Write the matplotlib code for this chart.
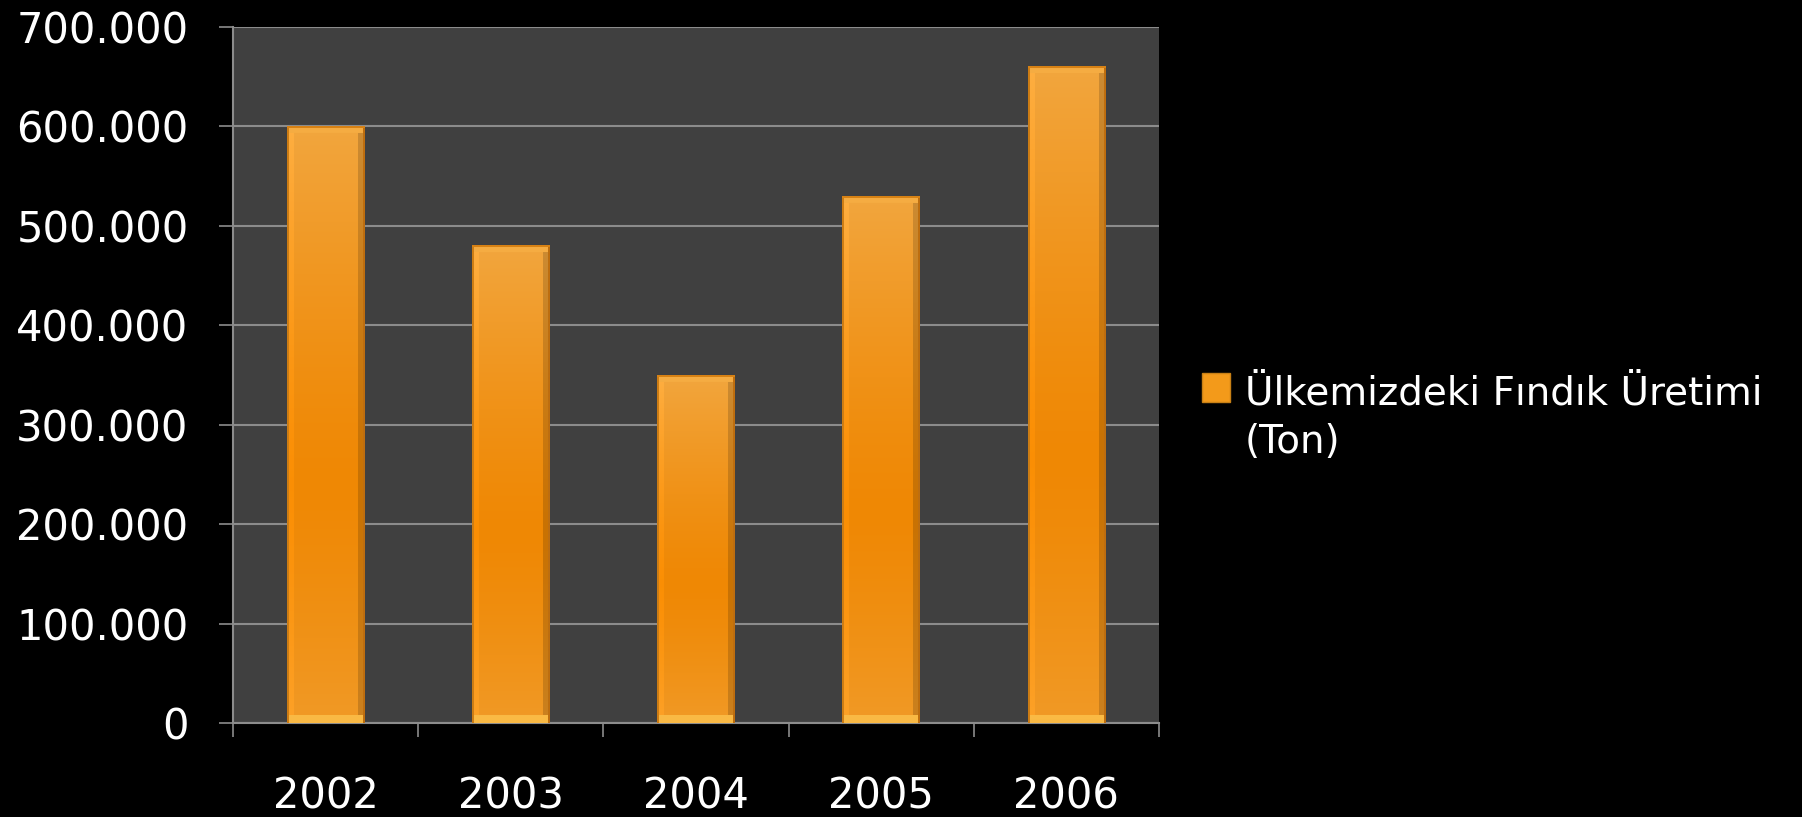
import matplotlib.pyplot as plt
import numpy as np
from matplotlib.ticker import FuncFormatter, FixedLocator
from matplotlib.patches import Rectangle

years = ['2002', '2003', '2004', '2005', '2006']
production = [600000, 480000, 350000, 530000, 660000]
series_line1 = 'Ülkemizdeki Fındık Üretimi'
series_line2 = '(Ton)'

W, H, DPI = 1802, 817, 100
fig = plt.figure(figsize=(W / DPI, H / DPI), dpi=DPI, facecolor='black')
ax = fig.add_axes([233 / W, 1 - 723 / H, (1159 - 233) / W, (723 - 27) / H])
ax.set_facecolor('#404040')

x = np.arange(len(years))
bw = 0.42
bars = ax.bar(x, production, width=bw, color='#F0901A', zorder=3)

ymax = 700000

# gradient fill per bar, built in pixel size so the bevel keeps a constant width
px_per_unit = (723 - 27) / ymax
px_w = int(round(bw * (1159 - 233) / len(years)))
top_c = np.array([242, 166, 62]) / 255
mid_c = np.array([239, 136, 4]) / 255
for rect in bars:
    h = rect.get_height()
    ph = max(int(round(h * px_per_unit)), 20)
    t = np.linspace(0, 1, ph)[:, None]
    # lighter at top and bottom, darkest around 60%
    w = np.clip(np.abs(t - 0.6) / 0.6, 0, 1) ** 1.3
    img = mid_c + (top_c - mid_c) * w[..., None]
    img = np.repeat(img, px_w, axis=1)
    # right edge shade, left highlight
    img[:, -7:] *= 0.84
    img[:, 2:7] = np.minimum(img[:, 2:7] * 1.05, 1)
    # top and bottom bevel
    img[:7, :] = np.array([245, 172, 66]) / 255
    img[-8:, :] = np.array([250, 186, 68]) / 255
    img[:, :2] = np.array([205, 125, 20]) / 255
    img[:, -2:] = np.array([190, 110, 15]) / 255
    img[:2, :] = np.array([215, 130, 20]) / 255
    x0 = rect.get_x()
    ax.imshow(img, extent=[x0, x0 + rect.get_width(), 0, h], aspect='auto',
              interpolation='bilinear', zorder=3.5, clip_path=rect)

ax.set_xlim(-0.5, len(years) - 0.5)
ax.set_ylim(0, ymax)

ax.set_axisbelow(True)
ax.yaxis.grid(True, color='#8C8C8C', linewidth=1.5)
ax.set_yticks(np.arange(0, ymax + 1, 100000))
ax.yaxis.set_major_formatter(FuncFormatter(lambda v, p: f'{v:,.0f}'.replace(',', '.')))

# ticks on the category boundaries, labels in the middle
ax.xaxis.set_major_locator(FixedLocator(np.arange(-0.5, len(years), 1.0)))
ax.xaxis.set_major_formatter(FuncFormatter(lambda v, p: ''))
ax.xaxis.set_minor_locator(FixedLocator(x))
ax.set_xticklabels(years, minor=True)

ax.tick_params(axis='both', which='major', color='#8C8C8C', length=10, width=1.2,
               direction='out', labelcolor='white', labelsize=30)
ax.tick_params(axis='y', pad=22)
ax.tick_params(axis='x', which='minor', length=0, pad=38, labelcolor='white', labelsize=30)

for s in ['top', 'right']:
    ax.spines[s].set_visible(False)
for s in ['left', 'bottom']:
    ax.spines[s].set_color('#8C8C8C')
    ax.spines[s].set_linewidth(1.5)

# legend: swatch beside the first line of the series name
fig.patches.append(Rectangle((1202 / W, 1 - 402 / H), 28 / W, 29 / H, transform=fig.transFigure,
                             facecolor='#F39A1A', edgecolor='#C88015', linewidth=1))
fig.text(1245 / W, 1 - 404 / H, series_line1, color='white', fontsize=28,
         va='baseline', ha='left')
fig.text(1245 / W, 1 - 453 / H, series_line2, color='white', fontsize=28,
         va='baseline', ha='left')

fig.savefig('out.png', dpi=DPI, facecolor='black')
